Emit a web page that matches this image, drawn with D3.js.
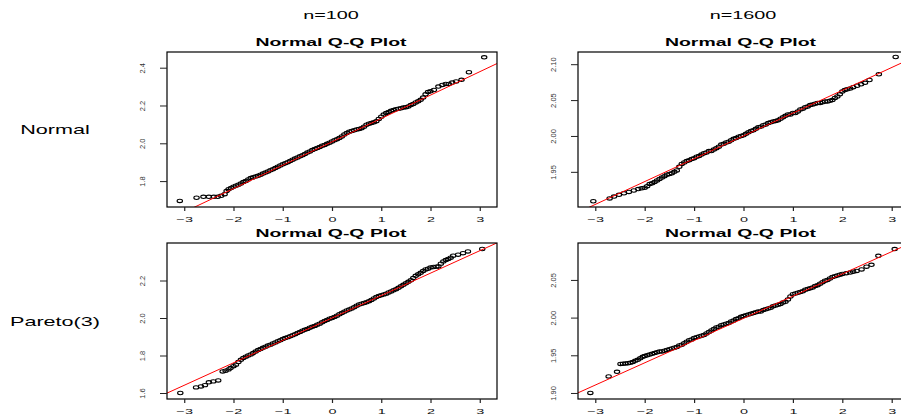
<!DOCTYPE html>
<html>
<head>
<meta charset="utf-8">
<script src="https://cdn.jsdelivr.net/npm/d3@7"></script>
<style>
  body { margin: 0; background: #fff; }
  text { font-family: "Liberation Sans", Arial, sans-serif; }
</style>
</head>
<body>
<svg id="chart" width="901" height="414"></svg>
<script>
// etichette e tick
const colLabels = ['n=100', 'n=1600']
const rowLabels = ['Normal', 'Pareto(3)']
const plotTitle = 'Normal Q-Q Plot'
const xTicks = [-3, -2, -1, 0, 1, 2, 3]
const xLim = [-3.35, 3.35]

// quantili teorici della parte centrale (comuni ai 4 grafici)
const coreQ = [-2.00,-1.95,-1.90,-1.85,-1.80,-1.75,-1.70,-1.65,-1.60,-1.55,
  -1.50,-1.45,-1.40,-1.35,-1.30,-1.25,-1.20,-1.15,-1.10,-1.05,
  -1.00,-0.95,-0.90,-0.85,-0.80,-0.75,-0.70,-0.65,-0.60,-0.55,
  -0.50,-0.45,-0.40,-0.35,-0.30,-0.25,-0.20,-0.15,-0.10,-0.05,
  0.00,0.05,0.10,0.15,0.20,0.25,0.30,0.35,0.40,0.45,
  0.50,0.55,0.60,0.65,0.70,0.75,0.80,0.85,0.90,0.95,
  1.00,1.05,1.10,1.15,1.20,1.25,1.30,1.35,1.40,1.45,
  1.50,1.55,1.60,1.65,1.70,1.75,1.80,1.85,1.90,1.95,
  2.00]

// Normal, n=100
const normSmallCore = [1.770,1.776,1.781,1.787,1.795,1.801,1.809,1.816,1.820,1.824,
  1.828,1.834,1.840,1.845,1.851,1.857,1.863,1.869,1.876,1.883,
  1.889,1.895,1.900,1.907,1.913,1.919,1.925,1.931,1.937,1.944,
  1.951,1.957,1.964,1.970,1.975,1.981,1.987,1.991,1.997,2.003,
  2.010,2.016,2.022,2.028,2.036,2.047,2.055,2.061,2.065,2.069,
  2.073,2.076,2.080,2.088,2.098,2.104,2.107,2.111,2.117,2.129,
  2.141,2.152,2.160,2.166,2.172,2.176,2.180,2.183,2.185,2.189,
  2.191,2.195,2.202,2.208,2.216,2.222,2.230,2.242,2.259,2.271,
  2.275]
const normSmallLowQ = [-3.09,-2.75,-2.61,-2.50,-2.40,-2.32,-2.25,-2.18,-2.14,-2.10,-2.05]
const normSmallLowV = [1.695,1.712,1.717,1.717,1.717,1.717,1.722,1.731,1.747,1.757,1.764]
const normSmallHighQ = [2.07,2.16,2.24,2.31,2.37,2.44,2.52,2.63,2.78,3.09]
const normSmallHighV = [2.282,2.300,2.309,2.314,2.314,2.321,2.327,2.336,2.376,2.455]
const normSmallLine = [2.0076, 0.1237]
const normSmallYTicks = [1.8, 2.0, 2.2, 2.4]
const normSmallYLim = [1.663, 2.483]

// Normal, n=1600
const normLargeCore = [1.928,1.930,1.933,1.934,1.936,1.938,1.940,1.942,1.944,1.946,
  1.947,1.948,1.950,1.952,1.957,1.961,1.963,1.965,1.966,1.968,
  1.969,1.971,1.972,1.974,1.976,1.977,1.979,1.979,1.981,1.983,
  1.985,1.988,1.989,1.991,1.992,1.994,1.996,1.997,1.999,2.000,
  2.001,2.003,2.005,2.007,2.008,2.010,2.012,2.013,2.015,2.016,
  2.018,2.019,2.020,2.021,2.022,2.024,2.026,2.028,2.030,2.030,
  2.032,2.032,2.034,2.037,2.038,2.040,2.041,2.043,2.044,2.045,
  2.046,2.046,2.047,2.048,2.048,2.049,2.050,2.053,2.055,2.058,
  2.062]
const normLargeLowQ = [-3.04,-2.71,-2.62,-2.52,-2.42,-2.32,-2.22,-2.13,-2.06]
const normLargeLowV = [1.909,1.913,1.9155,1.918,1.920,1.922,1.924,1.926,1.927]
const normLargeHighQ = [2.05,2.10,2.16,2.22,2.30,2.38,2.46,2.55,2.74,3.08]
const normLargeHighV = [2.064,2.065,2.066,2.068,2.070,2.072,2.074,2.078,2.086,2.110]
const normLargeLine = [2.000, 0.0318]
const normLargeYTicks = [1.95, 2.00, 2.05, 2.10]
const normLargeYLim = [1.901, 2.117]

// Pareto(3), n=100
const parSmallCore = [1.743,1.751,1.765,1.777,1.787,1.794,1.800,1.806,1.813,1.821,
  1.829,1.835,1.841,1.847,1.853,1.858,1.864,1.870,1.876,1.882,
  1.888,1.893,1.898,1.903,1.908,1.914,1.920,1.926,1.932,1.937,
  1.942,1.948,1.953,1.958,1.964,1.970,1.977,1.984,1.990,1.996,
  2.000,2.006,2.012,2.020,2.027,2.034,2.040,2.045,2.051,2.058,
  2.066,2.072,2.076,2.080,2.084,2.090,2.096,2.104,2.112,2.118,
  2.122,2.126,2.130,2.136,2.142,2.148,2.154,2.161,2.169,2.177,
  2.185,2.193,2.201,2.213,2.225,2.233,2.241,2.251,2.259,2.263,
  2.269]
const parSmallLowQ = [-3.08,-2.76,-2.66,-2.58,-2.50,-2.41,-2.31,-2.22,-2.16,-2.10,-2.06]
const parSmallLowV = [1.600,1.630,1.635,1.642,1.657,1.662,1.667,1.715,1.719,1.726,1.733]
const parSmallHighQ = [2.06,2.12,2.16,2.21,2.26,2.31,2.36,2.41,2.46,2.56,2.66,2.76,3.05]
const parSmallHighV = [2.272,2.274,2.275,2.290,2.302,2.309,2.315,2.322,2.332,2.338,2.346,2.355,2.368]
const parSmallLine = [2.000, 0.1196]
const parSmallYTicks = [1.6, 1.8, 2.0, 2.2]
const parSmallYLim = [1.568, 2.400]

// Pareto(3), n=1600
const parLargeCore = [1.949,1.950,1.951,1.952,1.953,1.954,1.955,1.955,1.956,1.957,
  1.958,1.959,1.960,1.961,1.963,1.964,1.966,1.968,1.970,1.971,
  1.973,1.974,1.975,1.976,1.977,1.979,1.981,1.983,1.985,1.987,
  1.988,1.990,1.991,1.992,1.993,1.995,1.996,1.998,1.999,2.001,
  2.002,2.003,2.004,2.005,2.006,2.007,2.008,2.008,2.010,2.011,
  2.012,2.013,2.015,2.016,2.017,2.018,2.020,2.021,2.024,2.028,
  2.031,2.032,2.033,2.034,2.035,2.037,2.038,2.039,2.040,2.042,
  2.043,2.045,2.047,2.049,2.050,2.052,2.054,2.055,2.056,2.057,
  2.058]
const parLargeLowQ = [-3.10,-2.73,-2.56,-2.49,-2.44,-2.39,-2.34,-2.29,-2.24,-2.19,-2.14,-2.09,-2.04]
const parLargeLowV = [1.900,1.922,1.928,1.9386,1.9388,1.939,1.9395,1.940,1.941,1.9426,1.944,1.946,1.948]
const parLargeHighQ = [2.08,2.16,2.22,2.29,2.39,2.49,2.59,2.73,3.06]
const parLargeHighV = [2.059,2.0597,2.061,2.062,2.064,2.0676,2.070,2.082,2.091]
const parLargeLine = [1.999, 0.0295]
const parLargeYTicks = [1.90, 1.95, 2.00, 2.05]
const parLargeYLim = [1.892, 2.099]

// layout (pixel)
const colBox = [[167, 497], [578, 909]]
const rowBox = [[52, 207], [243, 399]]
const stretch = 1.8   // il grafico originale e' allargato in orizzontale

const svg = d3.select('#chart')

const panels = [
  { col: 0, row: 0, core: normSmallCore, lowQ: normSmallLowQ, lowV: normSmallLowV, highQ: normSmallHighQ, highV: normSmallHighV, line: normSmallLine, yTicks: normSmallYTicks, yLim: normSmallYLim, fmt: '.1f' },
  { col: 1, row: 0, core: normLargeCore, lowQ: normLargeLowQ, lowV: normLargeLowV, highQ: normLargeHighQ, highV: normLargeHighV, line: normLargeLine, yTicks: normLargeYTicks, yLim: normLargeYLim, fmt: '.2f' },
  { col: 0, row: 1, core: parSmallCore, lowQ: parSmallLowQ, lowV: parSmallLowV, highQ: parSmallHighQ, highV: parSmallHighV, line: parSmallLine, yTicks: parSmallYTicks, yLim: parSmallYLim, fmt: '.1f' },
  { col: 1, row: 1, core: parLargeCore, lowQ: parLargeLowQ, lowV: parLargeLowV, highQ: parLargeHighQ, highV: parLargeHighV, line: parLargeLine, yTicks: parLargeYTicks, yLim: parLargeYLim, fmt: '.2f' }
]

function drawPanel(p, i) {
  const [x0, x1] = colBox[p.col]
  const [y0, y1] = rowBox[p.row]
  const x = d3.scaleLinear().domain(xLim).range([x0, x1])
  const y = d3.scaleLinear().domain(p.yLim).range([y1, y0])
  const g = svg.append('g')

  const clipId = 'clip' + i
  g.append('clipPath').attr('id', clipId)
    .append('rect')
    .attr('x', x0).attr('y', y0)
    .attr('width', x1 - x0).attr('height', y1 - y0)

  // punti
  const pts = d3.zip(p.lowQ.concat(coreQ, p.highQ), p.lowV.concat(p.core, p.highV))
  g.append('g')
    .selectAll('ellipse')
    .data(pts)
    .join('ellipse')
    .attr('cx', d => x(d[0]))
    .attr('cy', d => y(d[1]))
    .attr('rx', 2.7)
    .attr('ry', 1.7)
    .attr('fill', 'none')
    .attr('stroke', '#000')
    .attr('stroke-width', 1.1)

  // qqline
  g.append('line')
    .attr('clip-path', `url(#${clipId})`)
    .attr('x1', x(xLim[0])).attr('y1', y(p.line[0] + p.line[1] * xLim[0]))
    .attr('x2', x(xLim[1])).attr('y2', y(p.line[0] + p.line[1] * xLim[1]))
    .attr('stroke', 'red')
    .attr('stroke-width', 1)

  // riquadro
  g.append('rect')
    .attr('x', x0).attr('y', y0)
    .attr('width', x1 - x0).attr('height', y1 - y0)
    .attr('fill', 'none')
    .attr('stroke', '#000')
    .attr('stroke-width', 1.2)

  // asse x
  const xAxis = g.append('g')
    .attr('transform', `translate(0,${y1})`)
    .call(d3.axisBottom(x).tickValues(xTicks).tickSize(4).tickPadding(5).tickFormat(d3.format('d')))
  xAxis.select('.domain').remove()
  xAxis.attr('font-family', null).attr('font-size', 8)
  xAxis.selectAll('.tick line').attr('stroke', '#222').attr('stroke-width', 1.2)
  xAxis.selectAll('.tick text').attr('fill', '#111').attr('transform', `scale(${stretch},1)`)

  // asse y
  const yAxis = g.append('g')
    .attr('transform', `translate(${x0},0)`)
    .call(d3.axisLeft(y).tickValues(p.yTicks).tickSize(7).tickFormat(d3.format(p.fmt)))
  yAxis.select('.domain').remove()
  yAxis.attr('font-family', null).attr('font-size', 7.5)
  yAxis.selectAll('.tick line').attr('stroke', '#222')
  yAxis.selectAll('.tick text')
    .attr('x', 0).attr('y', 0).attr('dy', '0.35em')
    .attr('text-anchor', 'middle')
    .attr('fill', '#333')
    .attr('transform', 'translate(-25,0) rotate(-90)')

  // titolo
  svg.append('text')
    .attr('transform', `translate(${(x0 + x1) / 2 - (p.col ? 3 : 1)},${y0 - 6}) scale(${stretch},1)`)
    .attr('text-anchor', 'middle')
    .attr('font-size', 10.8)
    .attr('font-weight', 'bold')
    .text(plotTitle)
}

panels.forEach(drawPanel)

// intestazioni colonne
colLabels.forEach((t, i) => {
  const cx = i === 0 ? 331 : 743
  svg.append('text')
    .attr('transform', `translate(${cx},19) scale(${stretch},1)`)
    .attr('text-anchor', 'middle')
    .attr('font-size', 11)
    .text(t)
})

// etichette righe
rowLabels.forEach((t, i) => {
  const cy = i === 0 ? 134 : 326
  svg.append('text')
    .attr('transform', `translate(55,${cy}) scale(${stretch},1)`)
    .attr('text-anchor', 'middle')
    .attr('font-size', 12)
    .text(t)
})
</script>
</body>
</html>
